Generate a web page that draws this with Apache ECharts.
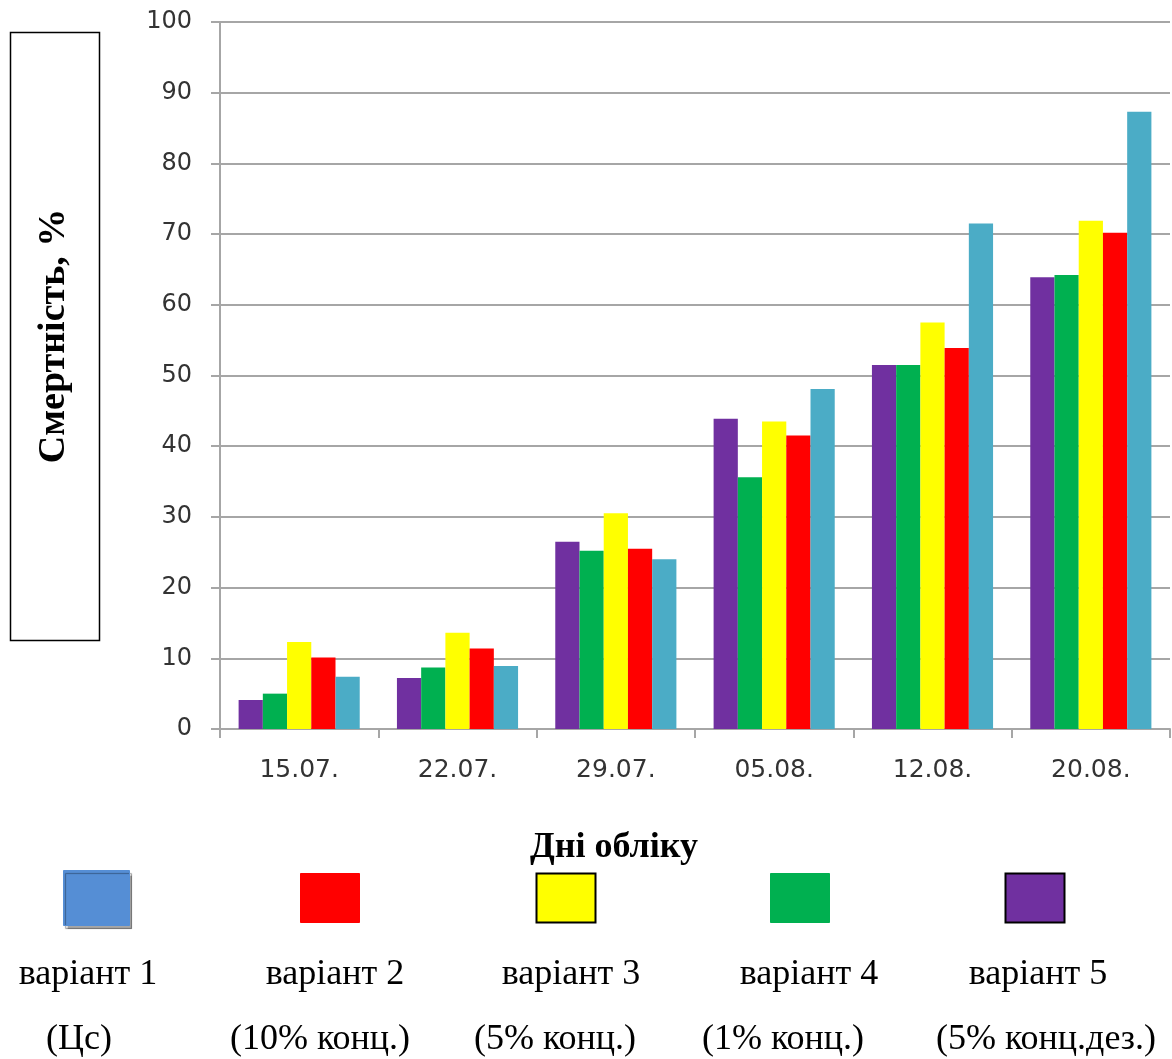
<!DOCTYPE html>
<html><head><meta charset="utf-8">
<script src="https://cdn.jsdelivr.net/npm/echarts@6/dist/echarts.min.js"></script>
<style>html,body{margin:0;padding:0;background:#fff}#c{width:1172px;height:1059px}</style>
</head><body><div id="c"></div>
<script>
const categories = ['15.07.', '22.07.', '29.07.', '05.08.', '12.08.', '20.08.'];
// series in drawing order (left to right within each group)
const variant5 = [4.1, 7.2, 26.5, 43.9, 51.5, 63.9];
const variant4 = [5.0, 8.7, 25.2, 35.6, 51.5, 64.2];
const variant3 = [12.3, 13.6, 30.5, 43.5, 57.5, 71.9];
const variant2 = [10.1, 11.4, 25.5, 41.5, 53.9, 70.2];
const variant1 = [7.4, 8.9, 24.0, 48.1, 71.5, 87.3];
const yTicks = {min: 0, max: 100, interval: 10};
const legendNames = ['варіант 1', 'варіант 2', 'варіант 3', 'варіант 4', 'варіант 5'];
const legendNotes = ['(Цс)', '(10% конц.)', '(5% конц.)', '(1% конц.)', '(5% конц.дез.)'];
const yTitle = 'Смертність, %';
const xTitle = 'Дні обліку';

const barColors = {v5: '#7030A0', v4: '#00B050', v3: '#FFFF00', v2: '#FF0000', v1: '#4BACC6'};
const legendColors = ['#558ED5', '#FF0000', '#FFFF00', '#00B050', '#7030A0'];
const legendBorder = [null, null, '#000', null, '#000'];
const swX = [63, 300, 536, 770, 1005];
const nameX = [88, 335, 571, 809, 1038];
const noteX = [79, 320, 555, 783, 1046];

const chart = echarts.init(document.getElementById('c'));
const mkSeries = (name, data, color) => ({
  name, type: 'bar', data, barGap: '0%', barCategoryGap: '23.5%',
  itemStyle: {color}, emphasis: {disabled: true}
});
const graphic = [
  {type: 'rect', shape: {x: 10.5, y: 32.5, width: 89, height: 608}, style: {fill: '#fff', stroke: '#000', lineWidth: 1.5}},
  {type: 'text', x: 54, y: 336, rotation: Math.PI / 2,
   style: {text: yTitle, font: 'bold 38px "Liberation Serif"', fill: '#000', align: 'center', verticalAlign: 'middle'}},
  {type: 'text', x: 614, y: 848,
   style: {text: xTitle, font: 'bold 36px "Liberation Serif"', fill: '#000', align: 'center', verticalAlign: 'middle'}}
];
legendNames.forEach((n, i) => {
  const isFirst = i === 0;
  graphic.push({type: 'rect', shape: {x: swX[i] + 0.5, y: (isFirst ? 870 : 873) + 0.5, width: isFirst ? 66 : 59, height: isFirst ? 55 : 49},
    style: {fill: legendColors[i], stroke: legendBorder[i] || legendColors[i], lineWidth: legendBorder[i] ? 2 : 1,
      shadowColor: isFirst ? 'rgba(0,0,0,0.35)' : null, shadowOffsetX: isFirst ? 2 : 0, shadowOffsetY: isFirst ? 3 : 0, shadowBlur: isFirst ? 1 : 0}});
  graphic.push({type: 'text', x: nameX[i], y: 975, style: {text: n, font: '36px "Liberation Serif"', fill: '#000', align: 'center', verticalAlign: 'middle'}});
  graphic.push({type: 'text', x: noteX[i], y: 1040, style: {text: legendNotes[i], font: '36px "Liberation Serif"', fill: '#000', align: 'center', verticalAlign: 'middle'}});
});

chart.setOption({
  animation: false,
  backgroundColor: '#fff',
  grid: {left: 220, right: 2, top: 22, bottom: 330, containLabel: false},
  xAxis: {
    type: 'category', data: categories,
    axisLine: {lineStyle: {color: '#a6a6a6', width: 2}},
    axisTick: {show: true, length: 9, lineStyle: {color: '#a6a6a6', width: 2}},
    axisLabel: {fontFamily: 'DejaVu Sans', fontSize: 25, color: '#333', margin: 29}
  },
  yAxis: {
    type: 'value', min: yTicks.min, max: yTicks.max, interval: yTicks.interval,
    axisLine: {show: true, lineStyle: {color: '#a6a6a6', width: 2}},
    axisTick: {show: true, length: 9, lineStyle: {color: '#a6a6a6', width: 2}},
    splitLine: {lineStyle: {color: '#a6a6a6', width: 2}},
    axisLabel: {fontFamily: 'DejaVu Sans', fontSize: 24, color: '#333', margin: 28}
  },
  series: [
    mkSeries('варіант 5', variant5, barColors.v5),
    mkSeries('варіант 4', variant4, barColors.v4),
    mkSeries('варіант 3', variant3, barColors.v3),
    mkSeries('варіант 2', variant2, barColors.v2),
    mkSeries('варіант 1', variant1, barColors.v1)
  ],
  graphic
});
</script></body></html>
